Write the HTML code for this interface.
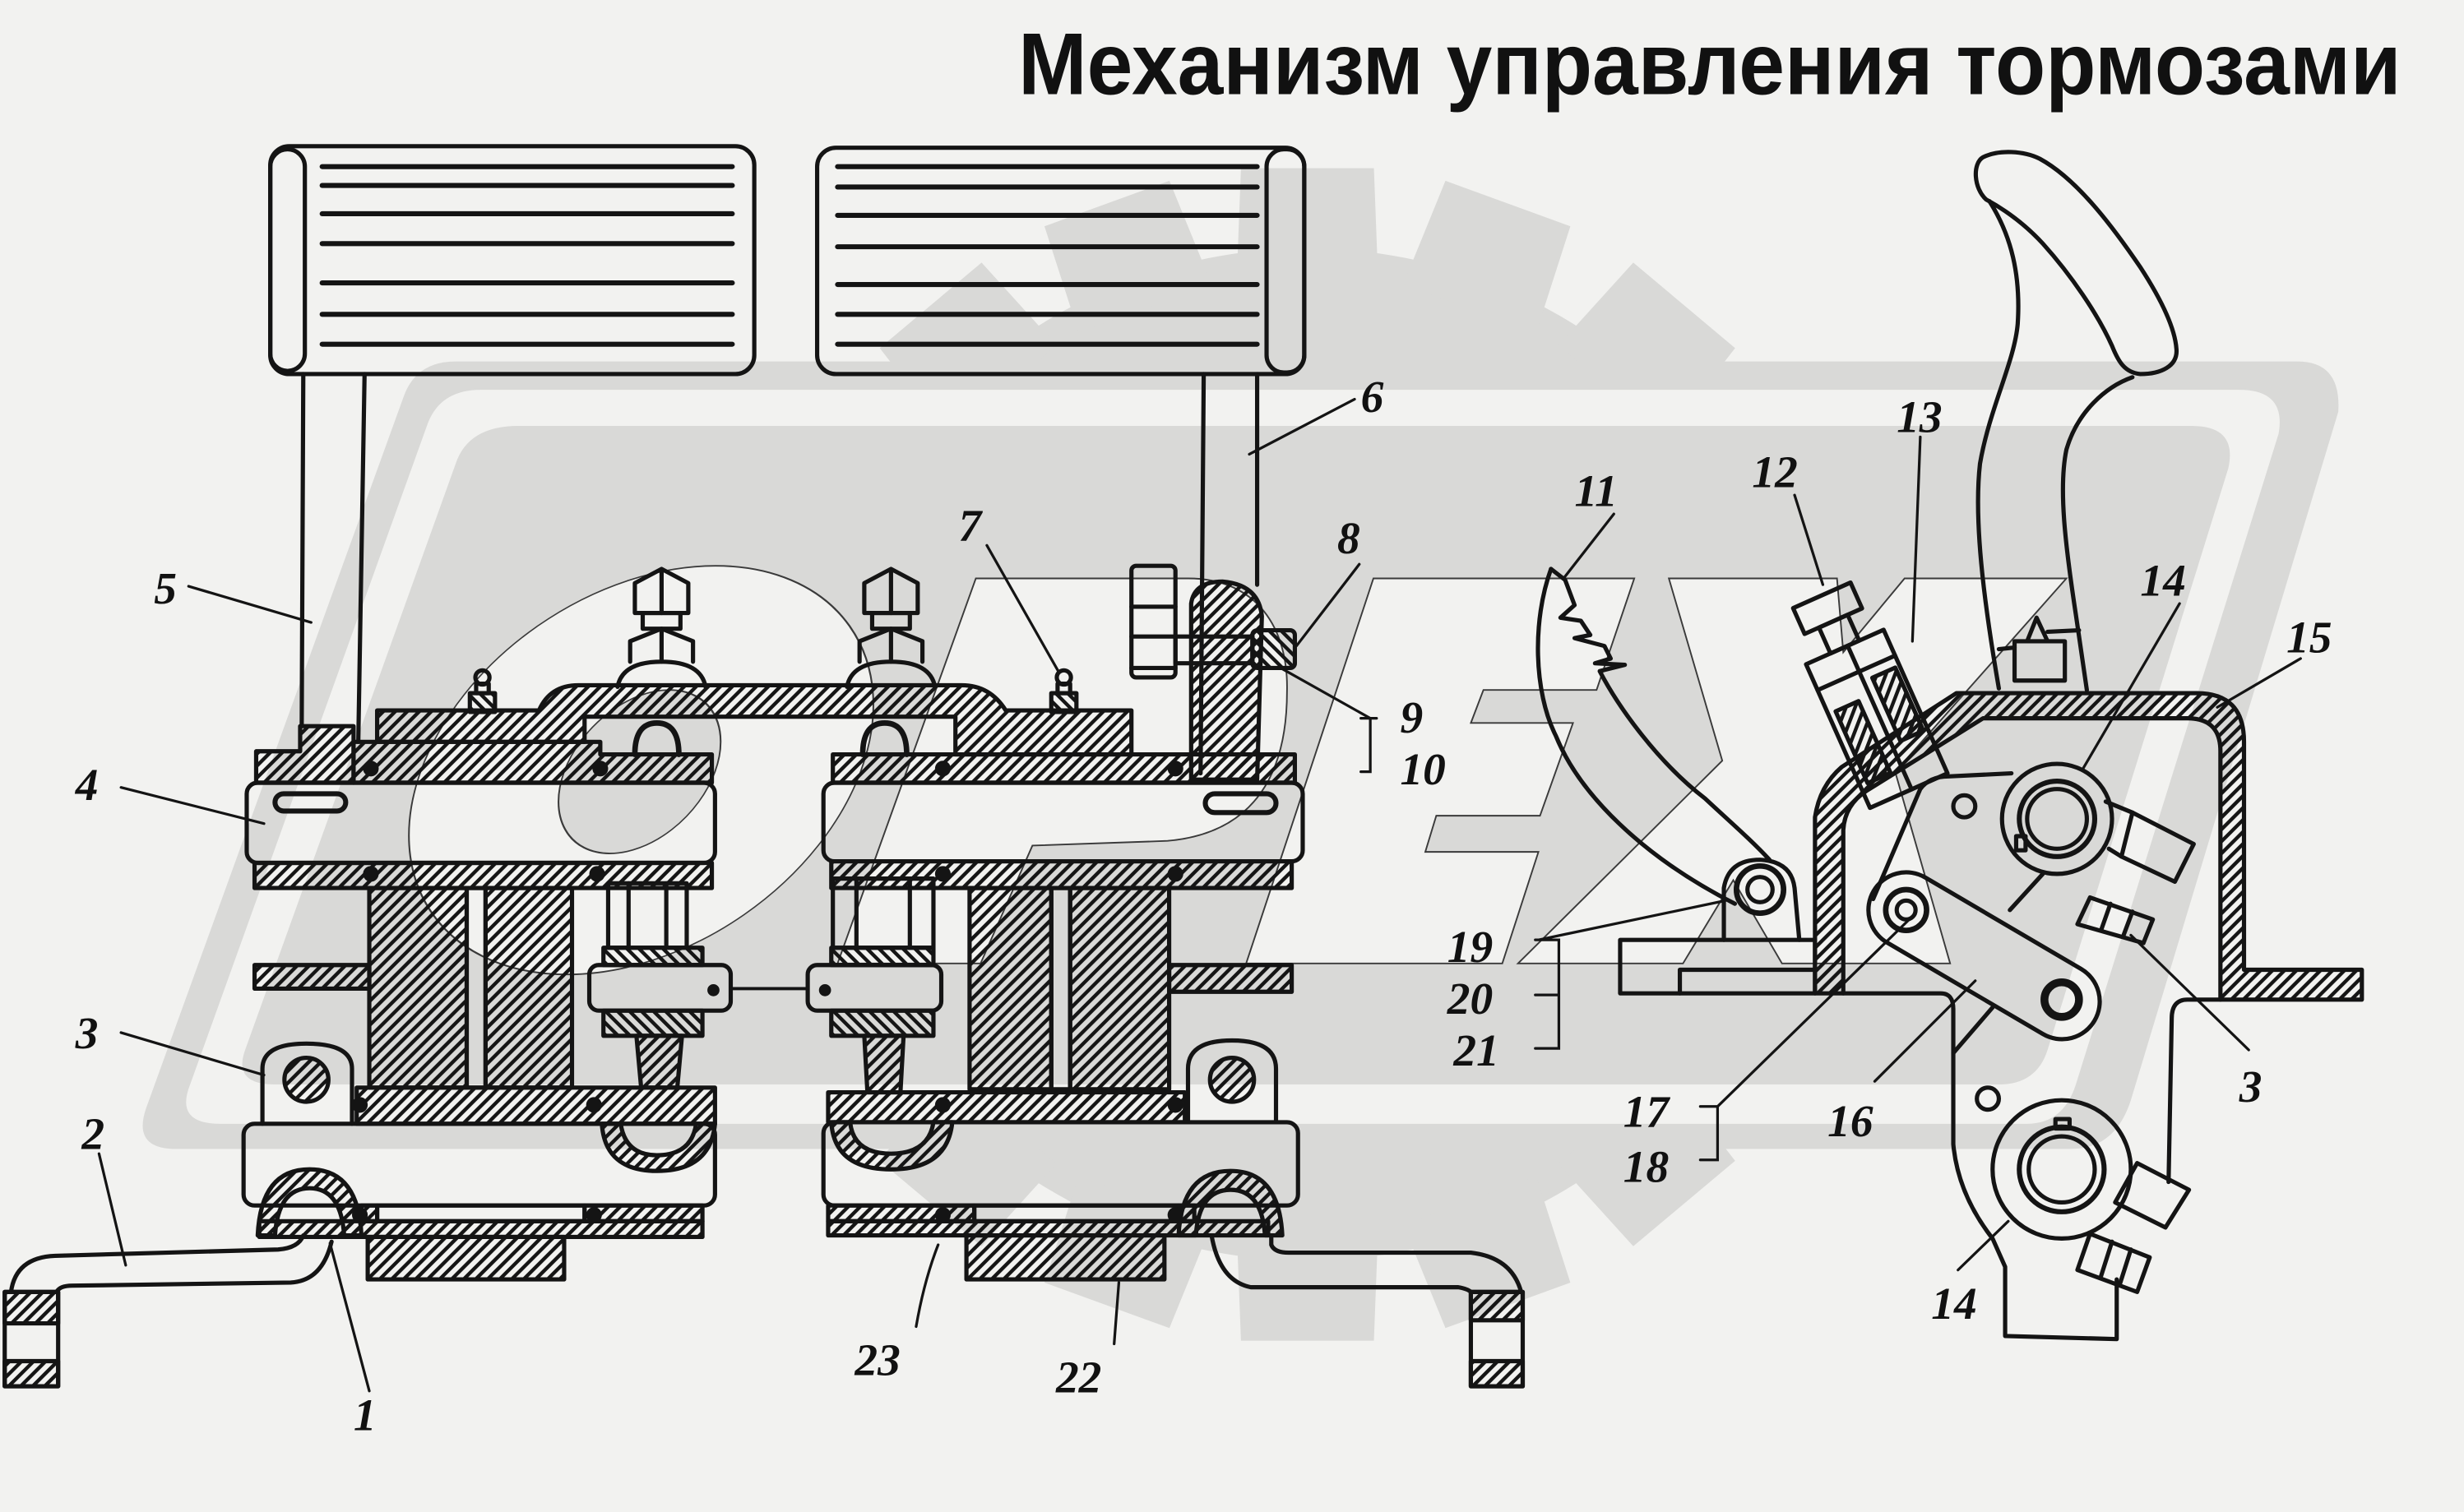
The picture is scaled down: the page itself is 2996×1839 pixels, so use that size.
<!DOCTYPE html>
<html><head><meta charset="utf-8">
<style>
html,body{margin:0;padding:0;background:#f2f2f0;}
svg{display:block;}
</style></head>
<body>
<svg xmlns="http://www.w3.org/2000/svg" width="2996" height="1839" viewBox="0 0 1568 962" preserveAspectRatio="none">
<defs>
 <pattern id="h" patternUnits="userSpaceOnUse" width="5.4" height="20" patternTransform="rotate(45)"><rect width="2.3" height="20" fill="#151515"/></pattern>
 <pattern id="g" patternUnits="userSpaceOnUse" width="5.4" height="20" patternTransform="rotate(-45)"><rect width="2.3" height="20" fill="#151515"/></pattern>
 <polygon id="tooth" points="787,178 789.7,107 874.3,107 877,178"/>
</defs>
<rect width="1568" height="962" fill="#f2f2f0"/>

<!-- ===== WATERMARK ===== -->
<g fill="#d9d9d7">
 <circle cx="832" cy="480" r="322"/>
 <use href="#tooth"/>
 <use href="#tooth" transform="rotate(20 832 480)"/>
 <use href="#tooth" transform="rotate(40 832 480)"/>
 <use href="#tooth" transform="rotate(60 832 480)"/>
 <use href="#tooth" transform="rotate(80 832 480)"/>
 <use href="#tooth" transform="rotate(100 832 480)"/>
 <use href="#tooth" transform="rotate(120 832 480)"/>
 <use href="#tooth" transform="rotate(140 832 480)"/>
 <use href="#tooth" transform="rotate(160 832 480)"/>
 <use href="#tooth" transform="rotate(180 832 480)"/>
 <use href="#tooth" transform="rotate(200 832 480)"/>
 <use href="#tooth" transform="rotate(220 832 480)"/>
 <use href="#tooth" transform="rotate(240 832 480)"/>
 <use href="#tooth" transform="rotate(260 832 480)"/>
 <use href="#tooth" transform="rotate(280 832 480)"/>
 <use href="#tooth" transform="rotate(300 832 480)"/>
 <use href="#tooth" transform="rotate(320 832 480)"/>
 <use href="#tooth" transform="rotate(340 832 480)"/>
 <path d="M290,230 L1462,230 Q1490,230 1488,262 L1356,700 Q1346,731 1318,731 L112,731 Q84,731 93,705 L257,252 Q265,230 290,230 Z"/>
</g>
<path fill="#f2f2f0" d="M306,248 L1425,248 Q1455,248 1450,276 L1321,690 Q1313,715 1290,715 L140,715 Q111,715 121,690 L272,270 Q280,248 306,248 Z"/>
<path fill="#d9d9d7" d="M330,271 L1395,271 Q1424,271 1418,298 L1303,668 Q1296,690 1272,690 L175,690 Q148,690 156,668 L290,295 Q298,271 330,271 Z"/>
<g fill="#f2f2f0" stroke="#3a3a3a" stroke-width="1">
 <ellipse cx="0" cy="0" rx="140" ry="130" transform="translate(408,490) skewX(-20)"/>
 <path d="M621,368 L756,368 C800,368 820,400 819,440 C819,490 800,530 743,535 L657,538 L624,613 L533,613 Z"/>
 <polygon points="874,368 1040,368 1016,439 944,439 936,460 1001,460 980,519 914,519 907,542 979,542 956,613 793,613"/>
 <polygon points="1062,368 1169,368 1173,415 1212,368 1315,368 1206,491 1241,613 1134,613 1103,560 1071,613 966,613 1096,484"/>
</g>
<ellipse cx="0" cy="0" rx="48" ry="52" transform="translate(407,491) skewX(-20)" fill="#d9d9d7" stroke="#3a3a3a" stroke-width="1"/>

<!-- ===== TITLE ===== -->
<text x="648" y="60" font-family="'Liberation Sans', Arial, sans-serif" font-weight="bold" font-size="56" textLength="880" lengthAdjust="spacingAndGlyphs" fill="#111">Механизм управления тормозами</text>

<!-- ===== DRAWING ===== -->
<g fill="none" stroke="#141414" stroke-width="2.7" stroke-linejoin="round" stroke-linecap="round">

<!-- Pedal 1 -->
<rect x="172" y="93" width="308" height="145" rx="12"/>
<rect x="172" y="95" width="22" height="141" rx="11"/>
<g stroke-width="3.2">
 <line x1="205" y1="106" x2="466" y2="106"/>
 <line x1="205" y1="118" x2="466" y2="118"/>
 <line x1="205" y1="136" x2="466" y2="136"/>
 <line x1="205" y1="155" x2="466" y2="155"/>
 <line x1="205" y1="180" x2="466" y2="180"/>
 <line x1="205" y1="200" x2="466" y2="200"/>
 <line x1="205" y1="219" x2="466" y2="219"/>
</g>
<line x1="193" y1="238" x2="192" y2="462"/>
<line x1="232" y1="238" x2="228" y2="472"/>

<!-- Pedal 2 -->
<rect x="520" y="94" width="310" height="144" rx="12"/>
<rect x="806" y="95" width="24" height="142" rx="11"/>
<g stroke-width="3.2">
 <line x1="533" y1="106" x2="800" y2="106"/>
 <line x1="533" y1="119" x2="800" y2="119"/>
 <line x1="533" y1="137" x2="800" y2="137"/>
 <line x1="533" y1="157" x2="800" y2="157"/>
 <line x1="533" y1="181" x2="800" y2="181"/>
 <line x1="533" y1="200" x2="800" y2="200"/>
 <line x1="533" y1="219" x2="800" y2="219"/>
</g>
<line x1="766" y1="238" x2="764" y2="492"/>
<line x1="800" y1="238" x2="800" y2="372"/>

<!-- Upper casting / arch -->
<path d="M163,498 L163,478 L191,478 L191,462 L225,462 L225,498 Z" fill="url(#h)"/>
<path d="M225,472 L382,472 L382,480 L453,480 L453,498 L225,498 Z" fill="url(#h)"/>
<rect x="530" y="480" width="294" height="18" fill="url(#h)"/>
<path d="M240,472 L240,452 L343,452 Q350,436 368,436 L612,436 Q630,436 640,452 L720,452 L720,480 L608,480 L608,456 L372,456 L372,472 Z" fill="url(#h)"/>
<path d="M404,480 Q404,460 418,460 Q432,460 432,480" stroke-width="3.5"/>
<path d="M549,480 Q549,460 563,460 Q577,460 577,480" stroke-width="3.5"/>

<!-- Bolt A -->
<path d="M404,390 L404,371 L421,362 L438,371 L438,390 Z"/>
<line x1="421" y1="363" x2="421" y2="390"/>
<rect x="409" y="390" width="24" height="10"/>
<path d="M401,421 L401,408 L421,400 L441,408 L441,421"/>
<line x1="421" y1="401" x2="421" y2="421"/>
<path d="M393,437 Q396,421 421,421 Q446,421 449,437"/>
<!-- Bolt B -->
<path d="M550,390 L550,371 L567,362 L584,371 L584,390 Z"/>
<line x1="567" y1="363" x2="567" y2="390"/>
<rect x="555" y="390" width="24" height="10"/>
<path d="M547,421 L547,408 L567,400 L587,408 L587,421"/>
<line x1="567" y1="401" x2="567" y2="421"/>
<path d="M539,437 Q542,421 567,421 Q592,421 595,437"/>

<!-- grease nipples -->
<circle cx="307" cy="431" r="4.5"/><rect x="303" y="435" width="8" height="6"/><rect x="299" y="441" width="16" height="12" fill="url(#g)"/>
<circle cx="677" cy="431" r="4.5"/><rect x="673" y="435" width="8" height="6"/><rect x="669" y="441" width="16" height="12" fill="url(#g)"/>

<!-- part 8 area -->
<rect x="720" y="360" width="28" height="71" rx="3"/>
<line x1="720" y1="386" x2="748" y2="386"/>
<line x1="720" y1="405" x2="748" y2="405"/>
<line x1="720" y1="425" x2="748" y2="425"/>
<path d="M758,496 L758,384 Q760,370 778,370 Q801,372 803,392 L800,496 Z" fill="url(#h)"/>
<rect x="748" y="405" width="49" height="17"/>
<rect x="797" y="401" width="27" height="24" rx="3" fill="url(#g)"/>

<!-- ===== LEFT ASSEMBLY ===== -->
<rect x="157" y="498" width="298" height="51" rx="7"/>
<rect x="175" y="505" width="45" height="11" rx="5.5" stroke-width="3.2"/>
<rect x="162" y="549" width="291" height="16" fill="url(#h)"/>
<rect x="235" y="565" width="62" height="127" fill="url(#h)"/>
<rect x="309" y="565" width="55" height="127" fill="url(#h)"/>
<rect x="297" y="565" width="12" height="127"/>
<rect x="162" y="614" width="73" height="15" fill="url(#h)"/>
<rect x="387" y="562" width="50" height="41"/>
<line x1="400" y1="562" x2="400" y2="603"/><line x1="424" y1="562" x2="424" y2="603"/>
<rect x="384" y="603" width="63" height="11" fill="url(#g)"/>
<rect x="384" y="643" width="63" height="16" fill="url(#g)"/>
<rect x="375" y="614" width="90" height="29" rx="6"/>
<circle cx="454" cy="630" r="2.5" fill="#141414"/>
<path d="M405,659 L434,659 L431,692 L408,692 Z" fill="url(#h)"/>
<rect x="227" y="692" width="228" height="23" fill="url(#h)"/>
<path d="M167,715 L167,680 Q167,664 195,664 Q224,664 224,680 L224,715"/>
<circle cx="195" cy="687" r="14" fill="url(#h)"/>
<rect x="155" y="715" width="300" height="52" rx="7"/>
<path d="M383,715 Q385,745 418,745 Q452,745 455,715 L443,715 Q440,735 418,735 Q398,735 395,715 Z" fill="url(#h)"/>
<path d="M164,786 Q166,744 197,744 Q228,744 230,786 L219,786 Q217,756 197,756 Q177,756 175,786 Z" fill="url(#h)"/>
<rect x="165" y="777" width="282" height="10" fill="url(#h)"/>
<rect x="230" y="767" width="10" height="10" fill="url(#h)"/>
<rect x="372" y="767" width="75" height="10" fill="url(#h)"/>
<rect x="240" y="767" width="132" height="10"/>
<rect x="234" y="787" width="125" height="27" fill="url(#h)"/>
<!-- lever 2 left -->
<rect x="3" y="822" width="34" height="60"/>
<rect x="3" y="822" width="34" height="20" fill="url(#h)"/>
<rect x="3" y="866" width="34" height="16" fill="url(#h)"/>
<path d="M7,822 Q10,800 35,799 L177,795 Q190,794 193,786"/>
<path d="M36,822 Q38,818 46,818 L185,816 Q205,815 211,790"/>

<!-- ===== RIGHT ASSEMBLY ===== -->
<rect x="524" y="498" width="305" height="50" rx="7"/>
<rect x="767" y="505" width="45" height="12" rx="6" stroke-width="3.2"/>
<rect x="529" y="548" width="293" height="17" fill="url(#h)"/>
<rect x="617" y="565" width="52" height="128" fill="url(#h)"/>
<rect x="681" y="565" width="63" height="128" fill="url(#h)"/>
<rect x="669" y="565" width="12" height="128"/>
<rect x="744" y="614" width="78" height="17" fill="url(#h)"/>
<rect x="530" y="559" width="64" height="44"/>
<line x1="545" y1="559" x2="545" y2="603"/><line x1="579" y1="559" x2="579" y2="603"/>
<rect x="529" y="603" width="65" height="11" fill="url(#g)"/>
<rect x="529" y="643" width="65" height="16" fill="url(#g)"/>
<rect x="514" y="614" width="85" height="29" rx="6"/>
<circle cx="525" cy="630" r="2.5" fill="#141414"/>
<line x1="465" y1="629" x2="514" y2="629" stroke-width="2"/>
<path d="M550,659 L575,659 L573,695 L552,695 Z" fill="url(#h)"/>
<rect x="527" y="695" width="227" height="19" fill="url(#h)"/>
<path d="M756,714 L756,680 Q756,662 784,662 Q812,662 812,680 L812,714"/>
<circle cx="784" cy="687" r="14" fill="url(#h)"/>
<rect x="524" y="714" width="302" height="53" rx="7"/>
<path d="M529,714 Q531,744 567,744 Q603,744 606,714 L594,714 Q591,734 567,734 Q543,734 541,714 Z" fill="url(#h)"/>
<path d="M750,786 Q752,745 783,745 Q814,745 816,786 L805,786 Q803,757 783,757 Q763,757 761,786 Z" fill="url(#h)"/>
<rect x="527" y="777" width="280" height="9" fill="url(#h)"/>
<rect x="527" y="767" width="93" height="10" fill="url(#h)"/>
<rect x="750" y="767" width="10" height="10" fill="url(#h)"/>
<rect x="620" y="767" width="130" height="10"/>
<rect x="615" y="786" width="126" height="28" fill="url(#h)"/>
<!-- lever 2 right -->
<rect x="936" y="822" width="33" height="60"/>
<rect x="936" y="822" width="33" height="18" fill="url(#h)"/>
<rect x="936" y="866" width="33" height="16" fill="url(#h)"/>
<path d="M809,786 L809,792 Q811,797 820,797 L936,797 Q962,800 968,822"/>
<path d="M771,786 Q776,815 796,819 L928,819 Q934,820 936,822"/>

<!-- seals -->
<g fill="#141414" stroke="none">
 <circle cx="236" cy="489" r="5"/><circle cx="382" cy="489" r="5"/>
 <circle cx="236" cy="556" r="5"/><circle cx="380" cy="556" r="5"/>
 <circle cx="229" cy="703" r="5"/><circle cx="378" cy="703" r="5"/>
 <circle cx="229" cy="773" r="5"/><circle cx="378" cy="773" r="5"/>
 <circle cx="600" cy="489" r="5"/><circle cx="748" cy="489" r="5"/>
 <circle cx="600" cy="556" r="5"/><circle cx="748" cy="556" r="5"/>
 <circle cx="600" cy="703" r="5"/><circle cx="748" cy="703" r="5"/>
 <circle cx="600" cy="773" r="5"/><circle cx="748" cy="773" r="5"/>
</g>

<!-- ===== RIGHT MECHANISM ===== -->
<!-- hand lever blade (closed loop) -->
<path d="M1264,127 C1256,120 1255,104 1262,100 C1272,95 1288,96 1298,101 C1322,114 1345,145 1362,170 C1375,190 1384,208 1385,222 C1386,233 1375,238 1362,238 C1352,237 1348,230 1344,220 C1335,200 1318,175 1300,155 C1288,142 1275,133 1264,127 Z"/>
<!-- lever shank -->
<path d="M1266,128 C1280,150 1286,175 1284,206 C1282,230 1266,260 1260,295 C1256,330 1262,380 1272,438"/>
<path d="M1357,240 C1340,246 1322,262 1315,286 C1310,310 1314,345 1321,391 L1328,439"/>
<!-- latch -->
<rect x="1282" y="408" width="32" height="25"/>
<path d="M1290,408 L1296,393 L1303,408"/>
<line x1="1272" y1="413" x2="1282" y2="412"/>
<line x1="1303" y1="402" x2="1323" y2="401"/>
<!-- bracket 15 -->
<path d="M1155,632 L1155,520 Q1158,500 1172,488 L1245,441 L1398,441 Q1428,441 1428,472 L1428,617 L1503,617 L1503,636 L1413,636 L1413,478 Q1413,457 1392,457 L1262,457 L1188,503 Q1174,512 1173,528 L1173,632 Z" fill="url(#h)"/>
<!-- bolt 12 -->
<g transform="translate(1163,387) rotate(66)">
 <rect x="-9" y="-20" width="18" height="40"/>
 <rect x="9" y="-10" width="18" height="20"/>
 <rect x="27" y="-27" width="100" height="54"/>
 <line x1="45" y1="-27" x2="45" y2="27"/>
 <line x1="27" y1="-2" x2="127" y2="-2"/>
 <rect x="52" y="-24" width="44" height="16" fill="url(#g)"/>
 <rect x="62" y="6" width="50" height="16" fill="url(#g)"/>
</g>
<!-- sector 11 -->
<path d="M987,362 C975,395 976,440 990,468 C1005,505 1045,545 1104,575"/>
<path d="M987,362 L996,369 L1002,385 L993,393 L1006,395 L1012,404 L1002,406 L1021,411 L1025,419 L1015,422 L1034,423 L1018,427 C1030,450 1055,485 1085,508 C1100,522 1115,535 1126,547"/>
<!-- pivot 19 -->
<path d="M1097,598 L1097,565 Q1100,547 1120,547 Q1140,548 1142,565 L1145,598"/>
<circle cx="1120" cy="566" r="15" stroke-width="3.5"/>
<circle cx="1120" cy="566" r="8"/>
<!-- base plate 20/21 -->
<rect x="1031" y="598" width="124" height="34"/>
<path d="M1069,632 L1069,617 L1155,617"/>
<!-- lower body -->
<path d="M1173,632 L1235,632 Q1243,632 1243,642 L1243,728 Q1246,760 1268,788 L1276,806 L1276,850 L1347,852 L1347,814"/>
<path d="M1413,636 L1392,636 Q1382,636 1382,648 L1380,752"/>
<line x1="1243" y1="670" x2="1268" y2="641"/>
<!-- upper plate & hub 14 -->
<path d="M1192,572 L1222,502 Q1228,494 1240,494 L1280,492"/>
<line x1="1279" y1="579" x2="1300" y2="556"/>
<circle cx="1250" cy="513" r="7"/>
<circle cx="1309" cy="521" r="35"/>
<circle cx="1309" cy="521" r="24" stroke-width="3.2"/>
<circle cx="1309" cy="521" r="19"/>
<rect x="1283" y="532" width="6" height="9"/>
<polygon points="1357,517 1396,537 1384,561 1350,545"/>
<line x1="1340" y1="510" x2="1357" y2="517"/>
<line x1="1342" y1="540" x2="1350" y2="545"/>
<polygon points="1330,571 1370,585 1364,600 1322,588"/>
<line x1="1343" y1="575" x2="1337" y2="592"/>
<line x1="1357" y1="580" x2="1351" y2="596"/>
<!-- plate 16 -->
<g transform="translate(1213,579) rotate(30.4)">
 <rect x="-24" y="-24" width="163" height="48" rx="24"/>
</g>
<circle cx="1213" cy="579" r="13" stroke-width="3.5"/>
<circle cx="1213" cy="579" r="6"/>
<circle cx="1312" cy="636" r="11" stroke-width="5"/>
<!-- lower hub 14 -->
<circle cx="1265" cy="699" r="7"/>
<circle cx="1312" cy="744" r="44"/>
<circle cx="1312" cy="744" r="27" stroke-width="3.2"/>
<circle cx="1312" cy="744" r="21"/>
<rect x="1308" y="712" width="9" height="6"/>
<polygon points="1360,740 1393,757 1378,781 1346,765"/>
<polygon points="1330,785 1368,800 1360,822 1322,808"/>
<line x1="1344" y1="790" x2="1337" y2="812"/>
<line x1="1356" y1="795" x2="1349" y2="817"/>
</g>

<!-- ===== LEADERS ===== -->
<g fill="none" stroke="#141414" stroke-width="1.7" stroke-linecap="round">
 <line x1="120" y1="373" x2="198" y2="396"/>
 <line x1="862" y1="254" x2="795" y2="289"/>
 <line x1="628" y1="347" x2="674" y2="428"/>
 <line x1="865" y1="359" x2="825" y2="411"/>
 <path d="M815,425 L872,457 M866,457 L876,457 M872,457 L872,491 L866,491"/>
 <line x1="1027" y1="327" x2="995" y2="368"/>
 <line x1="1142" y1="315" x2="1160" y2="372"/>
 <line x1="1222" y1="278" x2="1217" y2="408"/>
 <line x1="1387" y1="384" x2="1325" y2="490"/>
 <line x1="1464" y1="419" x2="1411" y2="450"/>
 <line x1="1431" y1="668" x2="1356" y2="595"/>
 <line x1="1193" y1="688" x2="1257" y2="624"/>
 <path d="M1082,704 L1093,704 L1093,738 L1082,738 M1093,704 L1217,583"/>
 <path d="M977,598 L992,598 L992,667 L977,667 M977,633 L992,633 M979,598 L1098,573"/>
 <line x1="77" y1="501" x2="168" y2="524"/>
 <line x1="77" y1="657" x2="168" y2="684"/>
 <line x1="63" y1="734" x2="80" y2="805"/>
 <line x1="235" y1="885" x2="210" y2="791"/>
 <path d="M583,844 Q588,815 597,792"/>
 <line x1="709" y1="855" x2="712" y2="816"/>
 <line x1="1246" y1="808" x2="1278" y2="777"/>
</g>

<!-- ===== LABELS ===== -->
<g font-family="'Liberation Serif', 'Times New Roman', serif" font-style="italic" font-weight="bold" font-size="29" fill="#111">
 <text x="98" y="384">5</text>
 <text x="866" y="262">6</text>
 <text x="610" y="344">7</text>
 <text x="851" y="352">8</text>
 <text x="891" y="466">9</text>
 <text x="891" y="499">10</text>
 <text x="1002" y="322">11</text>
 <text x="1115" y="310">12</text>
 <text x="1207" y="275">13</text>
 <text x="1362" y="379">14</text>
 <text x="1455" y="415">15</text>
 <text x="48" y="509">4</text>
 <text x="48" y="667">3</text>
 <text x="52" y="731">2</text>
 <text x="225" y="910">1</text>
 <text x="544" y="875">23</text>
 <text x="672" y="886">22</text>
 <text x="921" y="612">19</text>
 <text x="921" y="645">20</text>
 <text x="925" y="678">21</text>
 <text x="1033" y="717">17</text>
 <text x="1033" y="752">18</text>
 <text x="1163" y="723">16</text>
 <text x="1425" y="701">3</text>
 <text x="1229" y="839">14</text>
</g>
</svg>
</body>
</html>
